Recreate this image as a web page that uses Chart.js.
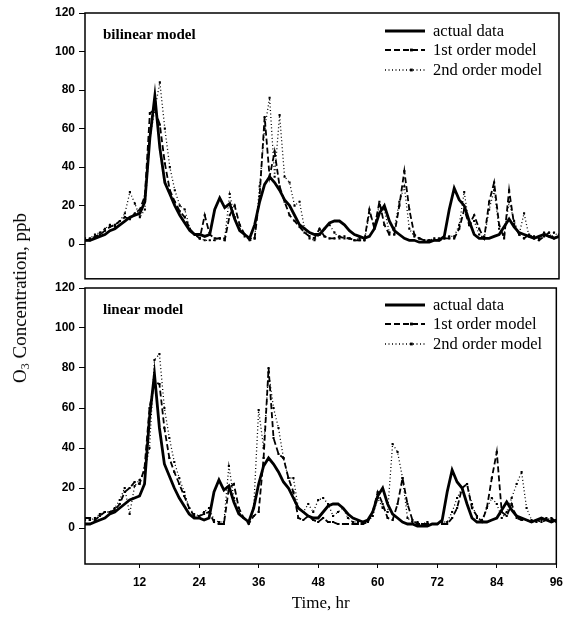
<!DOCTYPE html>
<html>
<head>
<meta charset="utf-8">
<script src="https://cdn.jsdelivr.net/npm/chart.js@4/dist/chart.umd.min.js"></script>
<style>
    html, body { margin: 0; padding: 0; background: #fff; }
    #wrap { position: relative; width: 570px; height: 622px; overflow: hidden; }
    .pane { position: absolute; left: 0; }
    .serif { font-family: "Liberation Serif", "Times New Roman", serif; color: #000; }
    .panel-label { position: absolute; left: 103px; font-size: 15px; font-weight: bold; line-height: 1; }
    .legend { position: absolute; left: 385px; font-size: 16.5px; line-height: 1; }
    .legend div { height: 19.5px; display: flex; align-items: center; white-space: nowrap; }
    .legend svg { width: 48px; height: 8px; flex: none; }
    #ytitle { position: absolute; left: 21px; top: 298px; transform: translate(-50%, -50%) rotate(-90deg);
              white-space: nowrap; font-size: 19px; }
    #ytitle sub { font-size: 12px; vertical-align: -3px; }
</style>
</head>
<body>
<div id="wrap">
    <div class="pane" style="top:0"><canvas id="top-chart" width="570" height="290"></canvas></div>
    <div class="pane" style="top:275px"><canvas id="bottom-chart" width="570" height="347"></canvas></div>

    <div class="panel-label serif" style="top:27px">bilinear model</div>
    <div class="panel-label serif" style="top:302px">linear model</div>

    <div class="legend serif" style="top:21px" id="legend-top"></div>
    <div class="legend serif" style="top:295px" id="legend-bottom"></div>

    <div id="ytitle" class="serif">O<sub>3</sub> Concentration, ppb</div>
</div>

<script>
// hourly ozone readings, hr 1..96
const actual = [2, 2, 3, 4, 5, 7, 8, 10, 12, 14, 15, 16,
    22, 55, 77, 50, 32, 26, 20, 15, 11, 7, 5, 5,
    4, 5, 18, 24, 19, 21, 13, 7, 5, 3, 10, 22,
    31, 35, 32, 28, 23, 20, 15, 10, 8, 6, 5, 5,
    8, 11, 12, 12, 10, 7, 5, 4, 3, 4, 8, 16,
    20, 12, 7, 5, 3, 2, 2, 1, 1, 1, 2, 2,
    4, 18, 29, 23, 20, 12, 5, 3, 3, 3, 4, 5,
    9, 13, 9, 6, 5, 4, 3, 4, 5, 4, 3, 4];

// bilinear model predictions
const bilinearFirst = [2, 2, 4, 5, 7, 9, 10, 12, 14, 13, 16, 18,
    25, 68, 70, 62, 42, 28, 22, 17, 14, 8, 5, 3,
    15, 5, 3, 3, 2, 15, 20, 10, 5, 2, 3, 25,
    66, 35, 48, 30, 22, 15, 12, 9, 6, 4, 3, 8,
    4, 3, 3, 4, 3, 3, 2, 2, 2, 18, 8, 22,
    10, 5, 5, 20, 38, 18, 5, 3, 2, 2, 2, 2,
    3, 3, 3, 8, 18, 10, 15, 8, 3, 22, 32, 10,
    3, 28, 10, 5, 3, 5, 3, 2, 4, 6, 3, 5];

const bilinearSecond = [3, 3, 5, 6, 8, 10, 9, 12, 16, 27, 21, 14,
    18, 55, 70, 84, 60, 40, 28, 20, 18, 8, 5, 3,
    2, 2, 2, 3, 3, 26, 14, 8, 4, 3, 3, 30,
    60, 76, 35, 67, 35, 32, 20, 22, 8, 3, 2, 5,
    8, 10, 6, 3, 4, 3, 2, 3, 2, 16, 10, 20,
    18, 6, 8, 22, 30, 8, 4, 3, 2, 2, 3, 3,
    3, 4, 4, 10, 27, 10, 12, 5, 3, 18, 28, 8,
    5, 22, 12, 5, 16, 4, 4, 3, 6, 4, 6, 4];

// linear model predictions
const linearFirst = [5, 5, 4, 6, 8, 8, 9, 12, 18, 20, 23, 22,
    30, 60, 73, 72, 50, 35, 28, 22, 16, 10, 6, 6,
    7, 8, 3, 2, 2, 20, 22, 10, 5, 2, 6, 8,
    35, 80, 45, 37, 35, 25, 18, 5, 4, 6, 4, 3,
    5, 3, 3, 2, 2, 2, 2, 2, 2, 3, 8, 18,
    12, 5, 4, 12, 25, 12, 4, 2, 2, 2, 2, 2,
    2, 2, 5, 10, 20, 22, 10, 6, 3, 10, 25, 38,
    8, 6, 12, 5, 4, 4, 3, 4, 3, 4, 5, 3];

const linearSecond = [4, 4, 5, 7, 8, 8, 10, 14, 20, 7, 21, 24,
    28, 40, 84, 87, 60, 45, 33, 25, 18, 10, 7, 6,
    8, 10, 4, 3, 3, 31, 15, 8, 5, 3, 10, 59,
    40, 78, 60, 50, 35, 25, 25, 10, 8, 12, 8, 14,
    15, 12, 6, 8, 10, 5, 3, 3, 3, 3, 6, 15,
    10, 8, 42, 38, 25, 5, 3, 3, 2, 3, 2, 2,
    3, 3, 8, 15, 20, 22, 12, 5, 4, 10, 15, 12,
    5, 8, 15, 22, 28, 10, 4, 3, 4, 5, 4, 4];

const seriesNames = ["actual data", "1st order model", "2nd order model"];
const yTicks = [0, 20, 40, 60, 80, 100, 120];
const xTicks = [12, 24, 36, 48, 60, 72, 84, 96];

const tickFont = { family: "'Liberation Sans', Arial, sans-serif", size: 12, weight: "bold" };

// line looks for the three series
const styles = [
    { borderWidth: 2.8, borderDash: [], pointRadius: 0 },
    { borderWidth: 1.8, borderDash: [6, 3], pointRadius: 1.5, pointStyle: "rect" },
    { borderWidth: 1.3, borderDash: [1, 2.5], pointRadius: 1.5, pointStyle: "rect" }
];

function toPoints(values) {
    return values.map((v, i) => ({ x: i + 1, y: v }));
}

// black box round the plot area
const framePlugin = {
    id: "frame",
    afterDraw(chart) {
        const { ctx, chartArea: a } = chart;
        ctx.save();
        ctx.strokeStyle = "#000";
        ctx.lineWidth = 1.5;
        ctx.strokeRect(a.left, a.top, a.right - a.left, a.bottom - a.top);
        ctx.restore();
    }
};

function makeChart(canvasId, seriesList, withXAxis) {
    const datasets = seriesList.map((values, i) => ({
        label: seriesNames[i],
        data: toPoints(values),
        borderColor: "#000",
        backgroundColor: "#000",
        pointBorderWidth: 0,
        tension: 0,
        ...styles[i]
    }));

    const xScale = {
        type: "linear",
        min: 1,
        max: 96,
        afterBuildTicks: s => { s.ticks = xTicks.map(v => ({ value: v })); },
        ticks: { display: withXAxis, font: tickFont, color: "#000", padding: 7, maxRotation: 0 },
        grid: { display: withXAxis, drawOnChartArea: false, tickLength: 4, color: "#000" },
        border: { display: false },
        afterFit: s => { s.height = withXAxis ? 58 : 0; }
    };
    if (withXAxis) {
        xScale.title = {
            display: true,
            text: "Time, hr",
            color: "#000",
            font: { family: "'Liberation Serif', 'Times New Roman', serif", size: 17 },
            padding: { top: 0, bottom: 8 }
        };
    }

    return new Chart(document.getElementById(canvasId).getContext("2d"), {
        type: "line",
        data: { datasets: datasets },
        options: {
            responsive: false,
            animation: false,
            layout: { padding: { top: 13, right: 11, bottom: withXAxis ? 0 : 2, left: 0 } },
            plugins: { legend: { display: false }, tooltip: { enabled: false } },
            scales: {
                x: xScale,
                y: {
                    min: -18,
                    max: 120,
                    afterBuildTicks: s => { s.ticks = yTicks.map(v => ({ value: v })); },
                    ticks: { font: tickFont, color: "#000", padding: 4 },
                    grid: { drawOnChartArea: false, tickLength: 6, color: "#000" },
                    border: { display: false },
                    afterFit: s => { s.width = 85; }
                }
            }
        },
        plugins: [framePlugin]
    });
}

// small svg swatches for the html legends
function buildLegend(id) {
    const box = document.getElementById(id);
    seriesNames.forEach((name, i) => {
        const st = styles[i];
        const row = document.createElement("div");
        const dash = st.borderDash.length ? `stroke-dasharray="${st.borderDash.join(" ")}"` : "";
        const mark = st.pointRadius ? `<rect x="25" y="2.6" width="2.8" height="2.8" fill="#000"/>` : "";
        row.innerHTML = `<svg viewBox="0 0 48 8"><line x1="0" y1="4" x2="40" y2="4" stroke="#000"
            stroke-width="${st.borderWidth}" ${dash}/>${mark}</svg><span>${name}</span>`;
        box.appendChild(row);
    });
}

document.addEventListener("DOMContentLoaded", () => {
    makeChart("top-chart", [actual, bilinearFirst, bilinearSecond], false);
    makeChart("bottom-chart", [actual, linearFirst, linearSecond], true);
    buildLegend("legend-top");
    buildLegend("legend-bottom");
});
</script>
</body>
</html>
